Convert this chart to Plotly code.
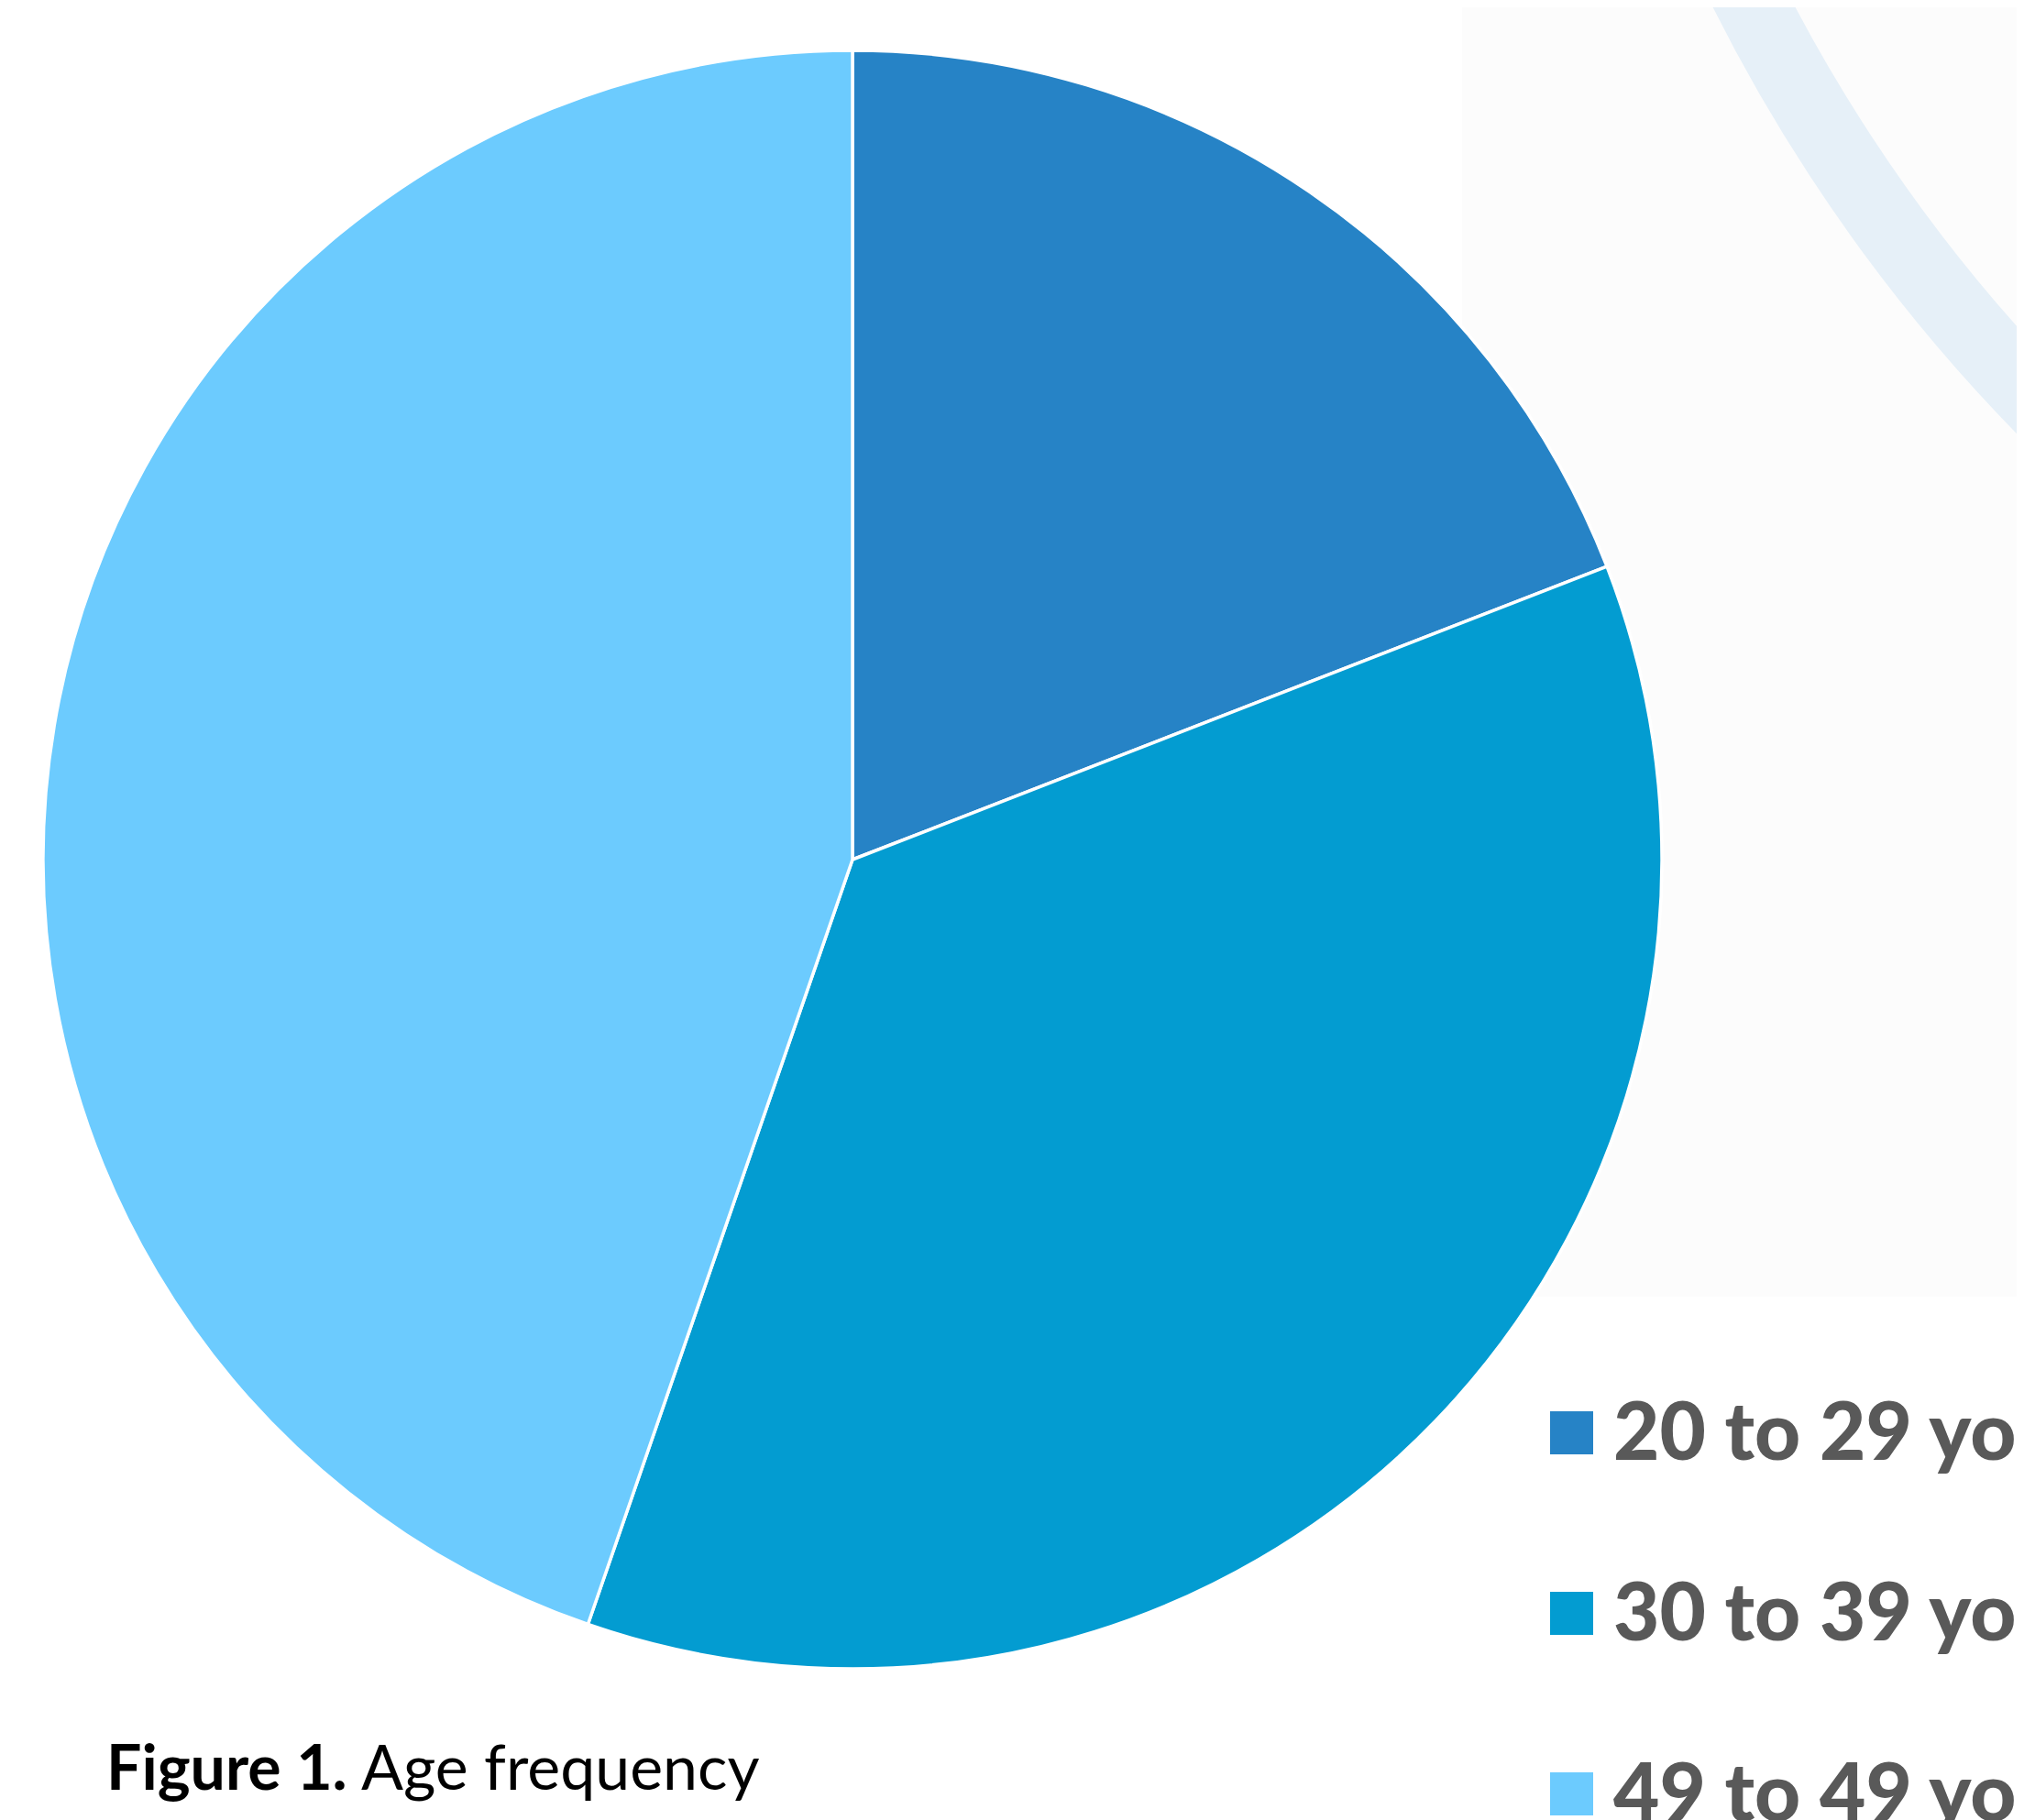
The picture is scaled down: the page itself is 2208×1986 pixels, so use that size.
import plotly.graph_objects as go

# ---- data ----
labels = ["20 to 29 yo", "30 to 39 yo", "49 to 49 yo"]
values = [19.1, 36.2, 44.7]
colors = ["#2683C6", "#039CD1", "#6CCBFE"]
caption_bold = "Figure 1."
caption_rest = "Age frequency"

W, H = 2208, 1986

def px(x):
    return x / W

def py(y):
    return 1 - y / H

# pie geometry (pixels)
cx, cy, r = 922, 930, 883

fig = go.Figure()
fig.add_trace(go.Pie(
    labels=labels,
    values=values,
    sort=False,
    direction="clockwise",
    rotation=0,
    textinfo="none",
    hoverinfo="label+percent",
    marker=dict(colors=colors, line=dict(color="white", width=3.5)),
    domain=dict(x=[px(cx - r), px(cx + r)], y=[py(cy + r), py(cy - r)]),
    showlegend=False,
))

shapes = []
# faint background panel & watermark arc (decoration)
shapes.append(dict(type="rect", xref="paper", yref="paper",
                   x0=px(1587), x1=1.0, y0=py(1407), y1=1.0,
                   fillcolor="#FCFCFC", line=dict(width=0), layer="below"))
wcx, wcy, wr = 3515, -828, 1810
shapes.append(dict(type="circle", xref="paper", yref="paper",
                   x0=px(wcx - wr), x1=px(wcx + wr), y0=py(wcy + wr), y1=py(wcy - wr),
                   line=dict(color="#E6F0F8", width=80), fillcolor="rgba(0,0,0,0)",
                   layer="below"))

annotations = []
# manual legend
leg_x0, leg_y0, leg_dy, sq = 1683, 1532, 197, 47
for i, (lab, col) in enumerate(zip(labels, colors)):
    y_top = leg_y0 + i * leg_dy
    shapes.append(dict(type="rect", xref="paper", yref="paper",
                       x0=px(leg_x0), x1=px(leg_x0 + sq),
                       y0=py(y_top + sq), y1=py(y_top),
                       fillcolor=col, line=dict(width=0)))
    annotations.append(dict(xref="paper", yref="paper",
                            x=px(1750), y=py(y_top + sq / 2 - 4),
                            xanchor="left", yanchor="middle",
                            text=lab, showarrow=False,
                            font=dict(family="Lato", size=87, color="#595959", weight=900)))

annotations.append(dict(xref="paper", yref="paper", x=px(106), y=py(1918),
                        xanchor="left", yanchor="middle",
                        text="<b>" + caption_bold + "</b> " + caption_rest,
                        showarrow=False,
                        font=dict(family="Lato", size=68, color="#000000")))

fig.update_layout(
    width=W, height=H,
    margin=dict(l=0, r=0, t=0, b=0),
    paper_bgcolor="white", plot_bgcolor="white",
    shapes=shapes, annotations=annotations,
    showlegend=False,
)

fig.write_html("out.html")
